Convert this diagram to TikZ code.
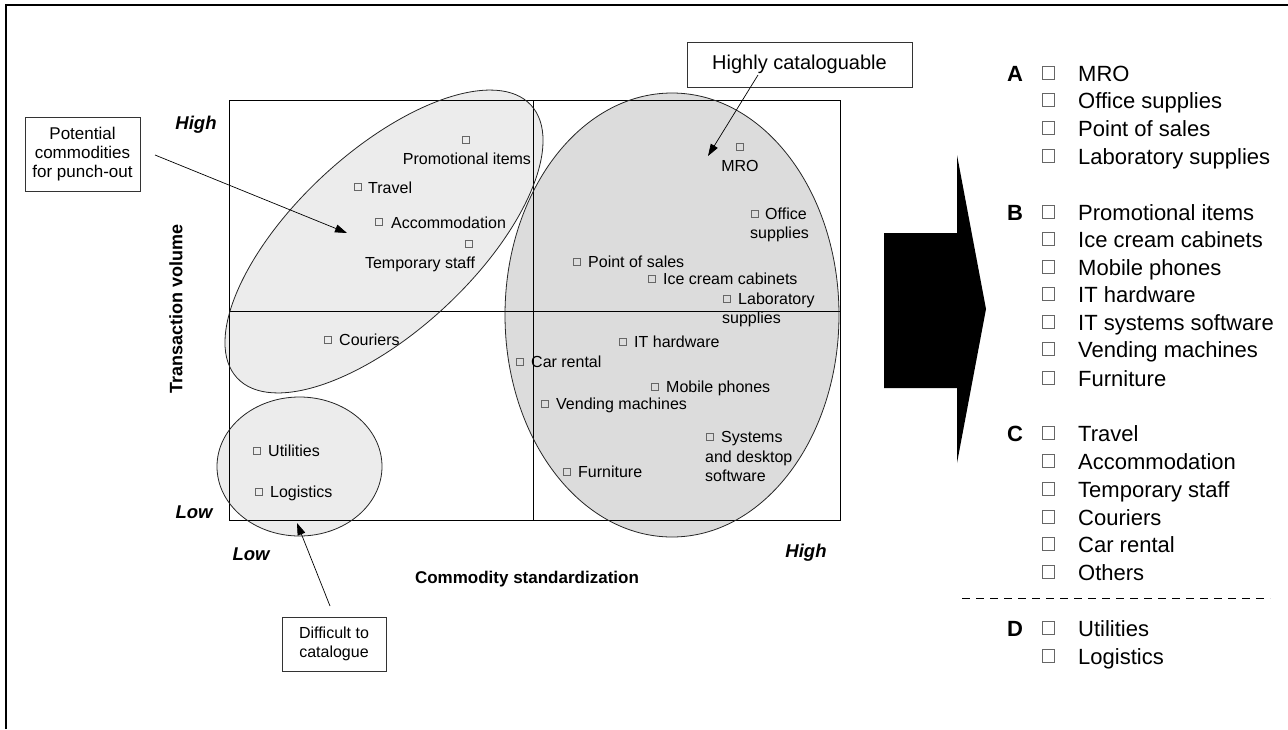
\documentclass[tikz,border=0pt]{standalone}
\usepackage{fontspec}
\setmainfont{Liberation Sans}
\usetikzlibrary{arrows.meta}
\definecolor{fillL}{RGB}{236,236,236}
\definecolor{fillR}{RGB}{220,220,220}
\begin{document}
\begin{tikzpicture}[x=1pt,y=-1pt,
  sq/.style={draw=black!60, line width=0.5pt, minimum size=7pt, inner sep=0pt},
  lbl/.style={font=\fontsize{16}{19}\selectfont, inner sep=0pt, anchor=base west},
  lblc/.style={font=\fontsize{16}{19}\selectfont, inner sep=0pt, anchor=base},
  ax/.style={font=\fontsize{18.5}{22}\selectfont\bfseries\itshape, inner sep=0pt},
  axt/.style={font=\fontsize{17}{20}\selectfont\bfseries, inner sep=0pt},
  callout/.style={draw=black!80, line width=0.8pt, align=center, inner sep=0pt},
  arr/.style={line width=0.7pt, -{Triangle[length=12pt,width=8pt]}},
  lsq/.style={draw=black!60, line width=0.6pt, minimum width=12pt, minimum height=13pt, inner sep=0pt},
  ltxt/.style={font=\fontsize{22}{26}\selectfont, inner sep=0pt, anchor=base west},
  lett/.style={font=\fontsize{22}{26}\selectfont\bfseries, inner sep=0pt, anchor=base},
  outl/.style={draw=black!85, line width=0.8pt},
]
\useasboundingbox (0,0) rectangle (1288,729);
% frame
\draw[line width=1.5pt] (6,729) -- (6,5) -- (1288,5);

% ellipse fills
\fill[fillL, rotate around={42.9:(384,241.5)}] (384,241.5) ellipse [x radius=200.5, y radius=89.5];
\fill[fillR] (672,315) ellipse [x radius=167, y radius=222];
\fill[fillL] (299.5,466.5) ellipse [x radius=82.5, y radius=69.5];

% chart box
\draw[line width=0.8pt] (229,100) rectangle (840,520);
\draw[line width=0.8pt] (533,100) -- (533,520);
\draw[line width=0.8pt] (229,311) -- (840,311);

% ellipse outlines
\draw[outl, rotate around={42.9:(384,241.5)}] (384,241.5) ellipse [x radius=200.5, y radius=89.5];
\draw[outl] (672,315) ellipse [x radius=167, y radius=222];
\draw[outl] (299.5,466.5) ellipse [x radius=82.5, y radius=69.5];

% items
\node[sq] (s1) at (466,140) {}; \node[lblc] (t1) at (467,164.5) {Promotional items};
\node[sq] (s2) at (358,187) {}; \node[lbl] (t2) at (368,193) {Travel};
\node[sq] (s3) at (379,222) {}; \node[lbl] (t3) at (391,228) {Accommodation};
\node[sq] (s4) at (469,244) {}; \node[lblc] (t4) at (420,268.5) {Temporary staff};
\node[sq] (s5) at (328,340) {}; \node[lbl] (t5) at (339,345.5) {Couriers};
\node[sq] (s6) at (257,451) {}; \node[lbl] (t6) at (268,456.5) {Utilities};
\node[sq] (s7) at (259,492) {}; \node[lbl] (t7) at (270,497.5) {Logistics};
\node[sq] (s8) at (520,362) {}; \node[lbl] (t8) at (531,367.5) {Car rental};
\node[sq] (s9) at (545,404) {}; \node[lbl] (t9) at (556,409.5) {Vending machines};
\node[sq] (s10) at (567,472) {}; \node[lbl] (t10) at (578,477.5) {Furniture};
\node[sq] (s11) at (623,342) {}; \node[lbl] (t11) at (634,347.5) {IT hardware};
\node[sq] (s12) at (655,387) {}; \node[lbl] (t12) at (666,392.5) {Mobile phones};
\node[sq] (s13) at (710,437) {}; \node[lbl] (t13) at (721,442.5) {Systems};
\node[lbl] (t13b) at (705,462) {and desktop};
\node[lbl] (t13c) at (705,481) {software};
\node[sq] (s14) at (727,299) {}; \node[lbl] (t14) at (738,304.5) {Laboratory};
\node[lbl] (t14b) at (722,323.5) {supplies};
\node[sq] (s15) at (652,279) {}; \node[lbl] (t15) at (663,284.5) {Ice cream cabinets};
\node[sq] (s16) at (577,262) {}; \node[lbl] (t16) at (588,267.5) {Point of sales};
\node[sq] (s17) at (755,214) {}; \node[lbl] (t17) at (765,219.5) {Office};
\node[lbl] (t17b) at (750,238.5) {supplies};
\node[sq] (s18) at (740,147) {}; \node[lblc] (t18) at (740,171.5) {MRO};

% axis labels
\node[ax] (yhi) at (196,125) {High};
\node[ax] (ylo) at (194,512) {Low};
\node[ax] (xlo) at (251,554) {Low};
\node[ax] (xhi) at (806,553) {High};
\node[axt, rotate=90, font=\fontsize{18}{21}\selectfont\bfseries] (ylab) at (176,309) {Transaction volume};
\node[axt] (xlab) at (527,579) {Commodity standardization};

% callouts
\node[callout, minimum width=225pt, minimum height=45pt, font=\fontsize{20}{24}\selectfont] (hc) at (799.5,64.5) {Highly cataloguable};
\node[callout, minimum width=115pt, minimum height=74pt, font=\fontsize{17}{19}\selectfont] (pc) at (82.5,154) {Potential\\commodities\\for punch-out};
\node[callout, minimum width=104pt, minimum height=54pt, font=\fontsize{16}{19}\selectfont] (dc) at (334,644) {Difficult to\\catalogue};

\coordinate (hcs) at (758,75); \coordinate (hct) at (708,156);
\coordinate (pcs) at (155,155); \coordinate (pct) at (347,233);
\coordinate (dcs) at (330,606); \coordinate (dct) at (297,523);
\draw[arr] (hcs) -- (hct);
\draw[arr] (pcs) -- (pct);
\draw[arr] (dcs) -- (dct);

% big arrow
\fill (884,233) -- (957,233) -- (957,155) -- (986,309) -- (957,463) -- (957,388) -- (884,388) -- cycle;

% right list
\foreach \t/\y [count=\i] in {MRO/73, Office supplies/100, Point of sales/128, Laboratory supplies/156,
  Promotional items/212, Ice cream cabinets/239, Mobile phones/267, IT hardware/294, IT systems software/322, Vending machines/349, Furniture/378,
  Travel/433, Accommodation/461, Temporary staff/489, Couriers/517, Car rental/544, Others/572,
  Utilities/628, Logistics/656} {
  \node[lsq] (ls\i) at (1048,\y) {};
  \node[ltxt] (lt\i) at (1078,\y+8) {\t};
}
\node[lett] (la) at (1015,81) {A};
\node[lett] (lb) at (1015,220) {B};
\node[lett] (lc) at (1015,441) {C};
\node[lett] (ld) at (1015,636) {D};
\draw[line width=0.8pt, dash pattern=on 8pt off 6pt] (962,598) -- (1270,598);
\end{tikzpicture}
\end{document}
